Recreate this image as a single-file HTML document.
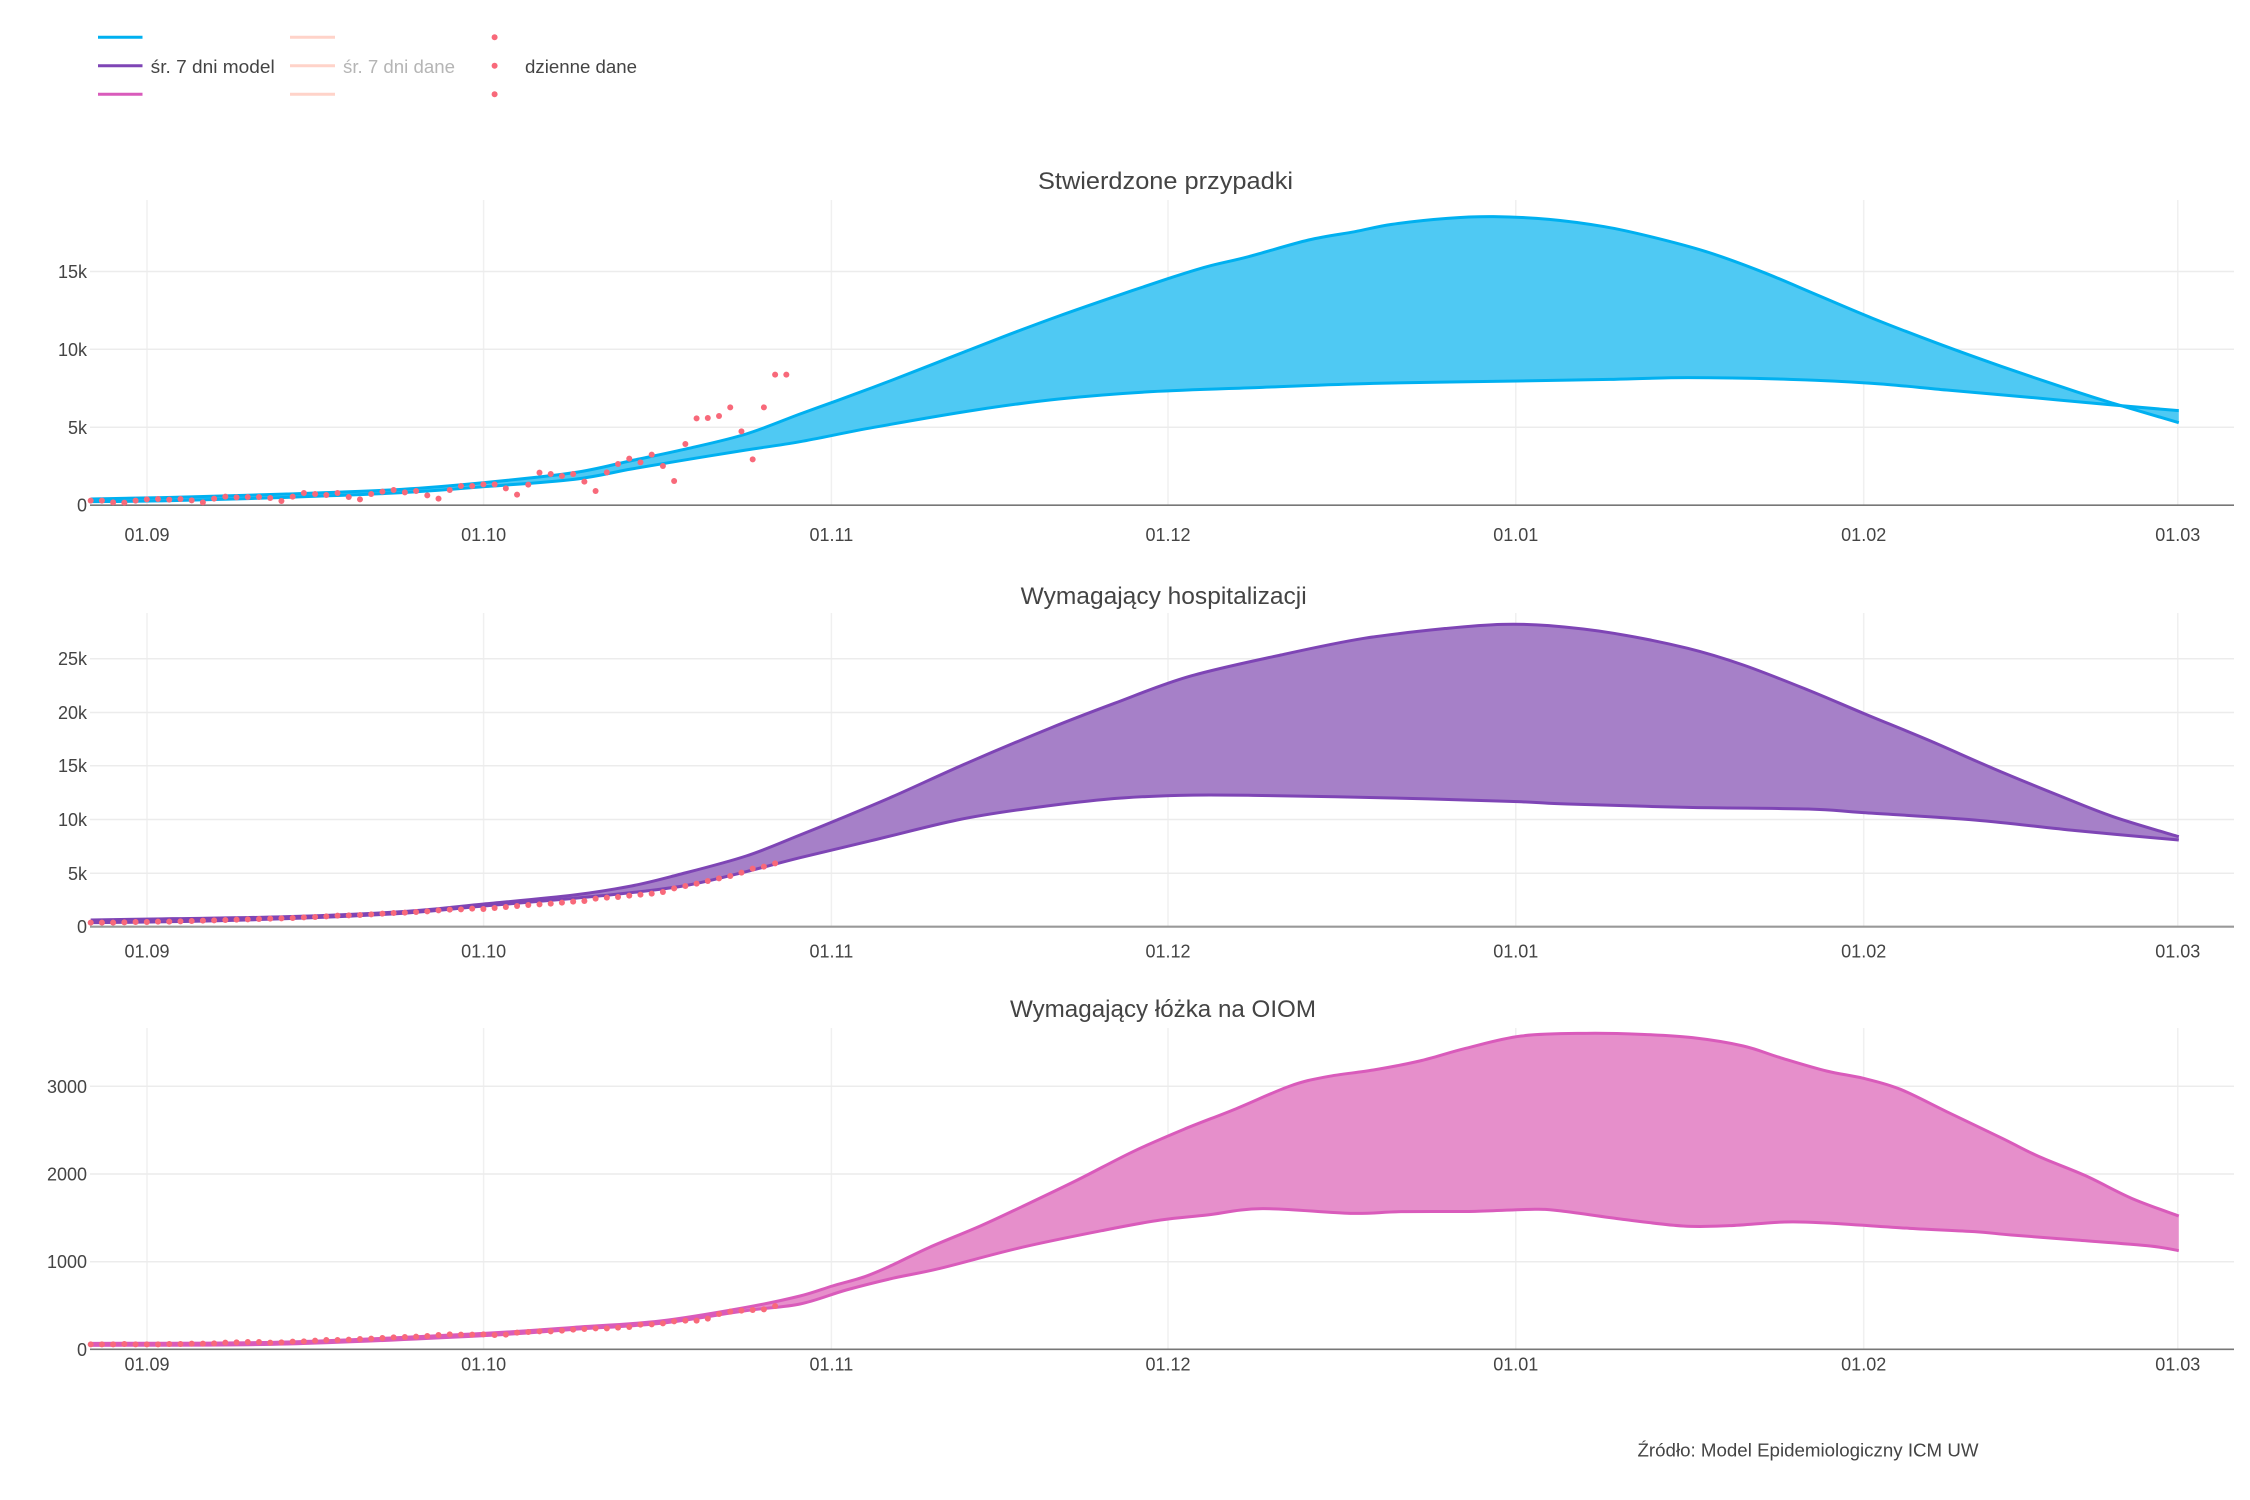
<!DOCTYPE html>
<html>
<head>
<meta charset="utf-8">
<style>
html,body{margin:0;padding:0;background:#fff;}
svg{display:block;}
text{font-family:"Liberation Sans","DejaVu Sans",sans-serif;fill:#444;}
.yl{font-size:18px;text-anchor:end;}
.xl{font-size:18px;text-anchor:middle;}
.tt{font-size:24px;text-anchor:middle;}
</style>
</head>
<body>
<svg id="s" width="2250" height="1500" viewBox="0 0 2250 1500" xmlns="http://www.w3.org/2000/svg">
<rect x="0" y="0" width="2250" height="1500" fill="#fff"/>
<g id="grid"></g>
<g id="data"></g>

<!-- Legend -->
<line x1="98" y1="37.3" x2="142.5" y2="37.3" stroke="#00b0f0" stroke-width="3"/>
<line x1="98" y1="65.7" x2="142.5" y2="65.7" stroke="#7e45b5" stroke-width="3"/>
<line x1="98" y1="94.3" x2="142.5" y2="94.3" stroke="#d95bbb" stroke-width="3"/>
<text x="150.7" y="73" style="font-size:18px" textLength="124" lengthAdjust="spacingAndGlyphs">śr. 7 dni model</text>
<line x1="290" y1="37.3" x2="335" y2="37.3" stroke="#ffd3c9" stroke-width="3"/>
<line x1="290" y1="65.7" x2="335" y2="65.7" stroke="#ffd3c9" stroke-width="3"/>
<line x1="290" y1="94.3" x2="335" y2="94.3" stroke="#ffd3c9" stroke-width="3"/>
<text x="343" y="73" style="font-size:18px;fill:#b5b5b5" textLength="112" lengthAdjust="spacingAndGlyphs">śr. 7 dni dane</text>
<circle cx="494.6" cy="37.3" r="3" fill="#f8697a"/>
<circle cx="494.6" cy="65.7" r="3" fill="#f8697a"/>
<circle cx="494.6" cy="94.3" r="3" fill="#f8697a"/>
<text x="525" y="73" style="font-size:18px" textLength="112" lengthAdjust="spacingAndGlyphs">dzienne dane</text>

<!-- Titles -->
<text class="tt" x="1165.5" y="189" textLength="255" lengthAdjust="spacingAndGlyphs">Stwierdzone przypadki</text>
<text class="tt" x="1163.7" y="604" textLength="286" lengthAdjust="spacingAndGlyphs">Wymagający hospitalizacji</text>
<text class="tt" x="1163" y="1017" textLength="306" lengthAdjust="spacingAndGlyphs">Wymagający łóżka na OIOM</text>

<!-- Y labels panel 1 -->
<text class="yl" x="87" y="511.5">0</text>
<text class="yl" x="87" y="433.8">5k</text>
<text class="yl" x="87" y="355.8">10k</text>
<text class="yl" x="87" y="278">15k</text>
<!-- Y labels panel 2 -->
<text class="yl" x="87" y="933.2">0</text>
<text class="yl" x="87" y="879.8">5k</text>
<text class="yl" x="87" y="826">10k</text>
<text class="yl" x="87" y="772.2">15k</text>
<text class="yl" x="87" y="719">20k</text>
<text class="yl" x="87" y="665.2">25k</text>
<!-- Y labels panel 3 -->
<text class="yl" x="87" y="1355.8">0</text>
<text class="yl" x="87" y="1268.2">1000</text>
<text class="yl" x="87" y="1180.5">2000</text>
<text class="yl" x="87" y="1092.8">3000</text>

<!-- X labels panel 1 -->
<text class="xl" x="147" y="541">01.09</text>
<text class="xl" x="483.6" y="541">01.10</text>
<text class="xl" x="831.4" y="541">01.11</text>
<text class="xl" x="1168" y="541">01.12</text>
<text class="xl" x="1515.8" y="541">01.01</text>
<text class="xl" x="1863.7" y="541">01.02</text>
<text class="xl" x="2177.8" y="541">01.03</text>
<!-- X labels panel 2 -->
<text class="xl" x="147" y="957.5">01.09</text>
<text class="xl" x="483.6" y="957.5">01.10</text>
<text class="xl" x="831.4" y="957.5">01.11</text>
<text class="xl" x="1168" y="957.5">01.12</text>
<text class="xl" x="1515.8" y="957.5">01.01</text>
<text class="xl" x="1863.7" y="957.5">01.02</text>
<text class="xl" x="2177.8" y="957.5">01.03</text>
<!-- X labels panel 3 -->
<text class="xl" x="147" y="1370.5">01.09</text>
<text class="xl" x="483.6" y="1370.5">01.10</text>
<text class="xl" x="831.4" y="1370.5">01.11</text>
<text class="xl" x="1168" y="1370.5">01.12</text>
<text class="xl" x="1515.8" y="1370.5">01.01</text>
<text class="xl" x="1863.7" y="1370.5">01.02</text>
<text class="xl" x="2177.8" y="1370.5">01.03</text>

<!-- Footer -->
<text x="1637.5" y="1456.5" style="font-size:18px" textLength="341" lengthAdjust="spacingAndGlyphs">Źródło: Model Epidemiologiczny ICM UW</text>
</svg>

<script>
(function(){
var NS="http://www.w3.org/2000/svg";
var grid=document.getElementById("grid"), data=document.getElementById("data");
function el(parent,tag,attrs){var e=document.createElementNS(NS,tag);for(var k in attrs)e.setAttribute(k,attrs[k]);parent.appendChild(e);return e;}
var X0=90, X1=2234;
var ticks=[147,483.6,831.4,1168,1515.8,1863.7,2177.8];
var panels=[
 {top:200, zero:505.2, h:[271.5,349.3,427.3], axis:"#777", aw:1.6},
 {top:613, zero:926.7, h:[658.7,712.5,765.7,819.5,873.3], axis:"#999", aw:2.2},
 {top:1028, zero:1349.3, h:[1086.3,1174,1261.7], axis:"#777", aw:1.6}
];
panels.forEach(function(p){
  ticks.forEach(function(t){el(grid,"line",{x1:t,y1:p.top,x2:t,y2:p.zero,stroke:"#f0f0f0","stroke-width":1.5});});
  p.h.forEach(function(y){el(grid,"line",{x1:X0,y1:y,x2:X1,y2:y,stroke:"#ececec","stroke-width":1.5});});
});

var L=900/1568, R=1450/1568;
function left(pts,y0){return pts.map(function(p){return [p[0]*L, y0+p[1]/3];});}
function right(pts,y0){return pts.map(function(p){return [800+p[0]*R, y0+p[1]/3];});}
function merge(l,r){return l.filter(function(p){return p[0]<780;}).concat(r);}
function f(v){return Math.round(v*100)/100;}
function curve(pts,start){
  var d=(start||"M")+f(pts[0][0])+","+f(pts[0][1]);
  for(var i=0;i<pts.length-1;i++){
    var p0=pts[i-1]||pts[i],p1=pts[i],p2=pts[i+1],p3=pts[i+2]||p2;
    var c1=[p1[0]+(p2[0]-p0[0])/6,p1[1]+(p2[1]-p0[1])/6];
    var c2=[p2[0]-(p3[0]-p1[0])/6,p2[1]-(p3[1]-p1[1])/6];
    d+=" C"+f(c1[0])+","+f(c1[1])+" "+f(c2[0])+","+f(c2[1])+" "+f(p2[0])+","+f(p2[1]);
  }
  return d;
}
function band(up,lo,fillc,linec){
  var dU=curve(up), dL=curve(lo);
  var rev=lo.slice().reverse();
  el(data,"path",{d:dU+" "+curve(rev,"L")+" Z",fill:fillc,stroke:"none"});
  el(data,"path",{d:dL,fill:"none",stroke:linec,"stroke-width":3,"stroke-linejoin":"round"});
  el(data,"path",{d:dU,fill:"none",stroke:linec,"stroke-width":3,"stroke-linejoin":"round"});
}
function axis(p){el(data,"line",{x1:X0,y1:p.zero,x2:X1,y2:p.zero,stroke:p.axis,"stroke-width":p.aw});}
function dots(ys,y0,startI){
  ys.forEach(function(y,i){el(data,"circle",{cx:f(90.7+(i+startI)*11.22),cy:f(y0+y/3),r:3,fill:"#f8697a"});});
}

/* Panel 1 */
var U1L=[[158,1047],[300,1042],[500,1032],[700,1018],[843,998],[1000,968],[1100,932],[1200,895],[1300,852]];
var L1L=[[158,1055],[300,1052],[500,1042],[700,1028],[843,1010],[1000,988],[1100,957],[1200,928],[1300,900]];
var U1R=[[0,672],[40,632],[100,570],[160,505],[220,440],[280,378],[340,320],[399,265],[440,230],[485,200],[550,150],[600,125],[640,103],[700,85],[750,80],[810,88],[870,110],[920,140],[980,185],[1040,245],[1100,315],[1160,385],[1230,460],[1300,530],[1380,605],[1420,640],[1491,698]];
var L1R=[[0,755],[80,712],[190,660],[280,627],[380,605],[500,592],[620,580],[776,573],[880,568],[960,563],[1070,568],[1160,580],[1240,600],[1330,622],[1420,645],[1491,662]];
axis(panels[0]);
band(merge(left(U1L,150),right(U1R,190)),merge(left(L1L,150),right(L1R,190)),"#4fc9f3","#00b0f0");
dots([1052,1052,1057,1058,1052,1048,1047,1049,1047,1051,1057,1046,1040,1042,1041,1041,1044,1053,1040,1029,1032,1035,1029,1041,1048,1032,1025,1020,1027,1023,1036,1046,1020,1008,1008,1003,1003,1015,1034,1004,968,972,978,972,995,1023,967,942,926,937,914,948,993,882,805,804,798,772,844,928,772,674,674],150,0);

/* Panel 2 */
var U2L=[[158,1050],[300,1046],[500,1040],[700,1025],[843,1002],[1000,975],[1100,948],[1180,915],[1300,858]];
var L2L=[[158,1058],[300,1055],[500,1046],[700,1030],[843,1008],[1000,985],[1100,968],[1200,945],[1300,905]];
var U2R=[[0,705],[40,660],[100,590],[180,490],[270,385],[340,310],[420,230],[520,165],[610,115],[700,85],[760,73],[810,77],[880,100],[960,145],[1020,195],[1090,270],[1150,340],[1220,420],[1290,505],[1360,585],[1420,650],[1491,710]];
var L2R=[[0,773],[80,720],[170,660],[240,628],[330,598],[410,586],[490,586],[640,594],[776,605],[830,612],[960,622],[1090,627],[1150,638],[1270,660],[1380,692],[1491,720]];
axis(panels[1]);
band(merge(left(U2L,570),right(U2R,600)),merge(left(L2L,570),right(L2R,600)),"#a680c8","#7e45b5");
dots([1058,1058,1058,1057,1056,1056,1055,1055,1054,1053,1052,1051,1050,1049,1048,1047,1046,1045,1044,1042,1041,1039,1037,1036,1035,1033,1031,1029,1028,1026,1024,1021,1019,1018,1016,1017,1014,1011,1008,1005,1003,1001,998,995,993,986,983,981,977,974,971,966,955,948,941,933,925,918,908,896,890,880],570,0);

/* Panel 3 */
var U3L=[[158,1060],[500,1056],[843,1030],[1000,1012],[1150,993],[1300,952]];
var L3L=[[158,1066],[500,1062],[843,1037],[1000,1018],[1150,1000],[1300,962]];
var U3R=[[0,858],[35,828],[70,800],[100,765],[140,712],[195,648],[240,590],[300,510],[360,425],[415,358],[470,298],[530,228],[570,200],[620,180],[670,153],[720,115],[780,78],[850,70],[910,73],[965,83],[1020,108],[1060,143],[1110,183],[1150,205],[1190,238],[1240,305],[1300,385],[1340,440],[1390,497],[1440,565],[1491,618]];
var L3R=[[0,882],[50,840],[100,805],[150,776],[240,712],[330,660],[390,630],[440,615],[500,596],[595,610],[650,605],[730,604],[790,598],[820,602],[890,628],[955,648],[1005,647],[1065,636],[1110,639],[1200,655],[1270,665],[1310,675],[1380,690],[1460,708],[1491,722]];
axis(panels[2]);
band(merge(left(U3L,990),right(U3R,1010)),merge(left(L3L,990),right(L3R,1010)),"#e68fcb","#d95bbb");
dots([1063,1063,1063,1062,1063,1063,1063,1062,1062,1061,1061,1060,1058,1057,1056,1056,1058,1057,1055,1054,1052,1050,1050,1049,1047,1046,1044,1042,1041,1040,1038,1035,1033,1034,1034,1033,1035,1034,1028,1026,1024,1024,1022,1019,1017,1015,1015,1013,1011,1004,1003,1000,994,992,992,986,972,965,962,960,958,948],990,0);
})();
</script>
</body>
</html>
